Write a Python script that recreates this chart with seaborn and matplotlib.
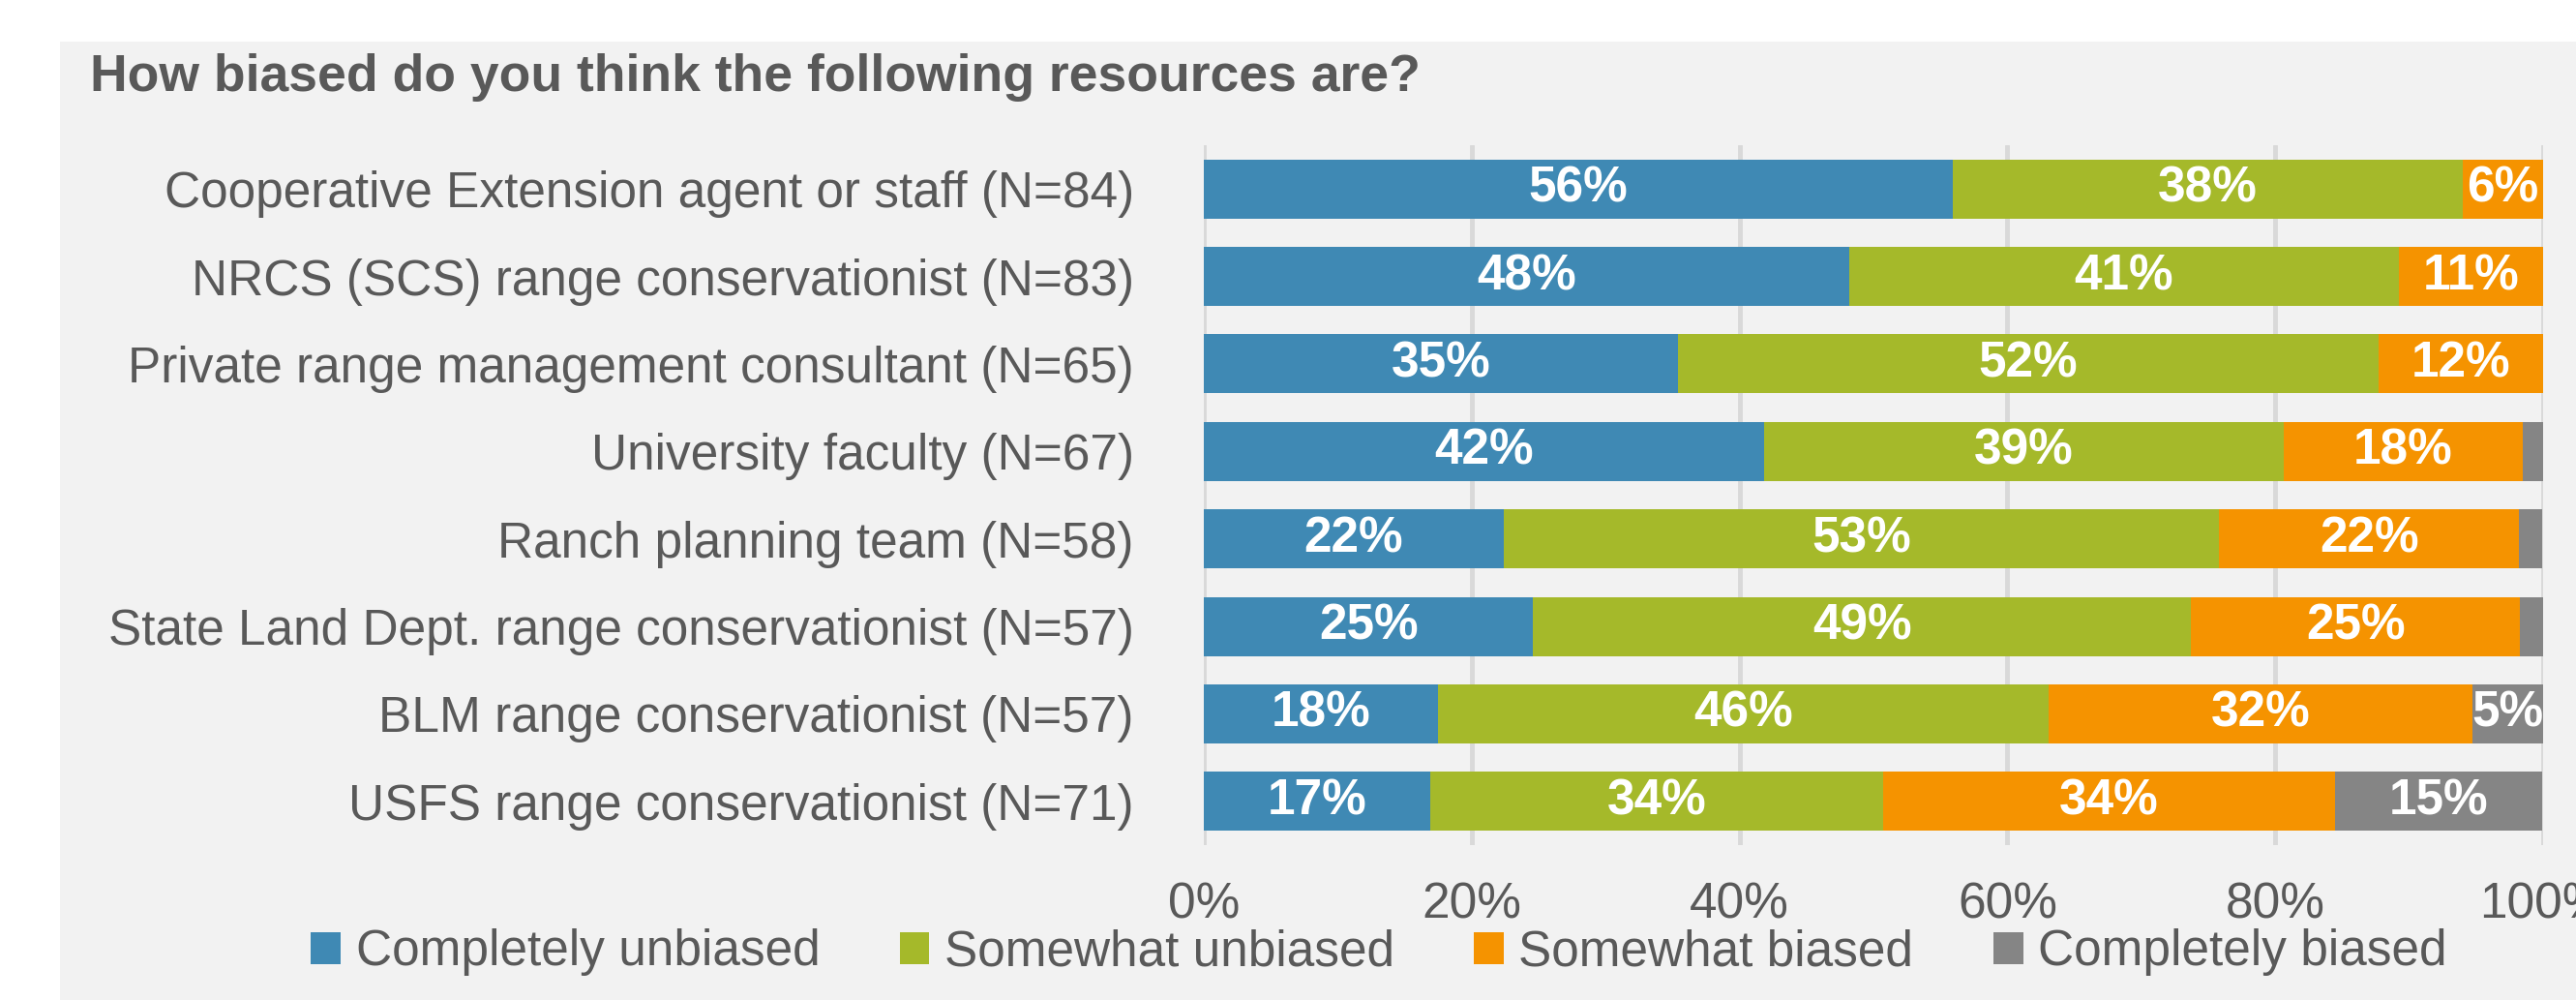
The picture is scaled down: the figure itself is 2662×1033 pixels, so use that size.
import matplotlib
matplotlib.use("Agg")
import matplotlib.pyplot as plt
import seaborn as sns
import pandas as pd
import numpy as np
from matplotlib.patches import Patch, Rectangle
from matplotlib.ticker import FuncFormatter

categories = [
    "Cooperative Extension agent or staff (N=84)",
    "NRCS (SCS) range conservationist (N=83)",
    "Private range management consultant (N=65)",
    "University faculty (N=67)",
    "Ranch planning team (N=58)",
    "State Land Dept. range conservationist (N=57)",
    "BLM range conservationist (N=57)",
    "USFS range conservationist (N=71)",
]
series_names = ["Completely unbiased", "Somewhat unbiased", "Somewhat biased", "Completely biased"]
completely_unbiased = [55.9, 48.2, 35.4, 41.8, 22.4, 24.6, 17.5, 16.9]
somewhat_unbiased = [38.1, 41.0, 52.3, 38.8, 53.4, 49.1, 45.6, 33.8]
somewhat_biased = [6.0, 10.8, 12.3, 17.9, 22.4, 24.6, 31.6, 33.8]
completely_biased = [0.0, 0.0, 0.0, 1.5, 1.7, 1.8, 5.3, 15.4]
xtick_values = [0, 20, 40, 60, 80, 100]

colors = ["#3f89b4", "#a5b92a", "#f59300", "#858585"]
text_color = "#595959"
panel_color = "#f2f2f2"

sns.set_theme(style="white")
plt.rcParams["font.family"] = ["Liberation Sans", "DejaVu Sans"]

W, H = 2662, 1033
fig = plt.figure(figsize=(W / 100, H / 100), dpi=100, facecolor="white")
fig.patches.append(Rectangle((62 / W, 0), 1 - 62 / W, 1 - 43 / H,
                             transform=fig.transFigure, facecolor=panel_color,
                             edgecolor="none", zorder=-10))

ax = fig.add_axes([1244 / W, 1 - 873 / H, (2628 - 1244) / W, (873 - 150) / H])
ax.set_zorder(2)
ax.set_facecolor("none")

df = pd.DataFrame({
    "category": categories,
    series_names[0]: completely_unbiased,
    series_names[1]: somewhat_unbiased,
    series_names[2]: somewhat_biased,
    series_names[3]: completely_biased,
})
vals = df[series_names].to_numpy()
cum = np.cumsum(vals, axis=1)

# draw cumulative bars from the widest (back) to narrowest (front)
for i in range(3, -1, -1):
    sns.barplot(x=cum[:, i], y=df["category"], orient="h", color=colors[i],
                width=0.675, ax=ax, saturation=1, zorder=3, linewidth=0)

# value labels
for r in range(len(categories)):
    for i in range(4):
        v = vals[r, i]
        if round(v) >= 5:
            center = cum[r, i] - v / 2
            ax.text(center, r, f"{round(v):.0f}%", ha="center", va="center",
                    color="white", fontsize=37, fontweight="bold", zorder=5)

ax.set_xlim(0, 100)
ax.set_ylim(len(categories) - 0.5, -0.5)
ax.set_xticks(xtick_values)
ax.xaxis.set_major_formatter(FuncFormatter(lambda v, p: f"{v:.0f}%"))
ax.grid(axis="x", color="#d9d9d9", linewidth=3.5, zorder=0)
ax.grid(axis="y", visible=False)
ax.set_axisbelow(True)
for s in ax.spines.values():
    s.set_visible(False)
ax.tick_params(axis="x", length=0, pad=27, labelsize=37, labelcolor=text_color)
ax.tick_params(axis="y", length=0, pad=52, labelsize=37, labelcolor=text_color)
ax.set_xlabel("")
ax.set_ylabel("")

fig.text(93 / W, 1 - 80 / H, "How biased do you think the following resources are?",
         ha="left", va="center", fontsize=38.5, fontweight="bold", color=text_color)

handles = [Patch(facecolor=c, edgecolor="none", label=n) for c, n in zip(colors, series_names)]
leg = fig.legend(handles=handles, loc="center", bbox_to_anchor=(1425 / W, 1 - 984 / H),
                 ncol=4, frameon=False, fontsize=37, handlelength=0.6, handleheight=0.6,
                 handletextpad=0.3, columnspacing=1.6, borderaxespad=0)
for t in leg.get_texts():
    t.set_color(text_color)

fig.savefig("out.png", dpi=100, facecolor="white")
